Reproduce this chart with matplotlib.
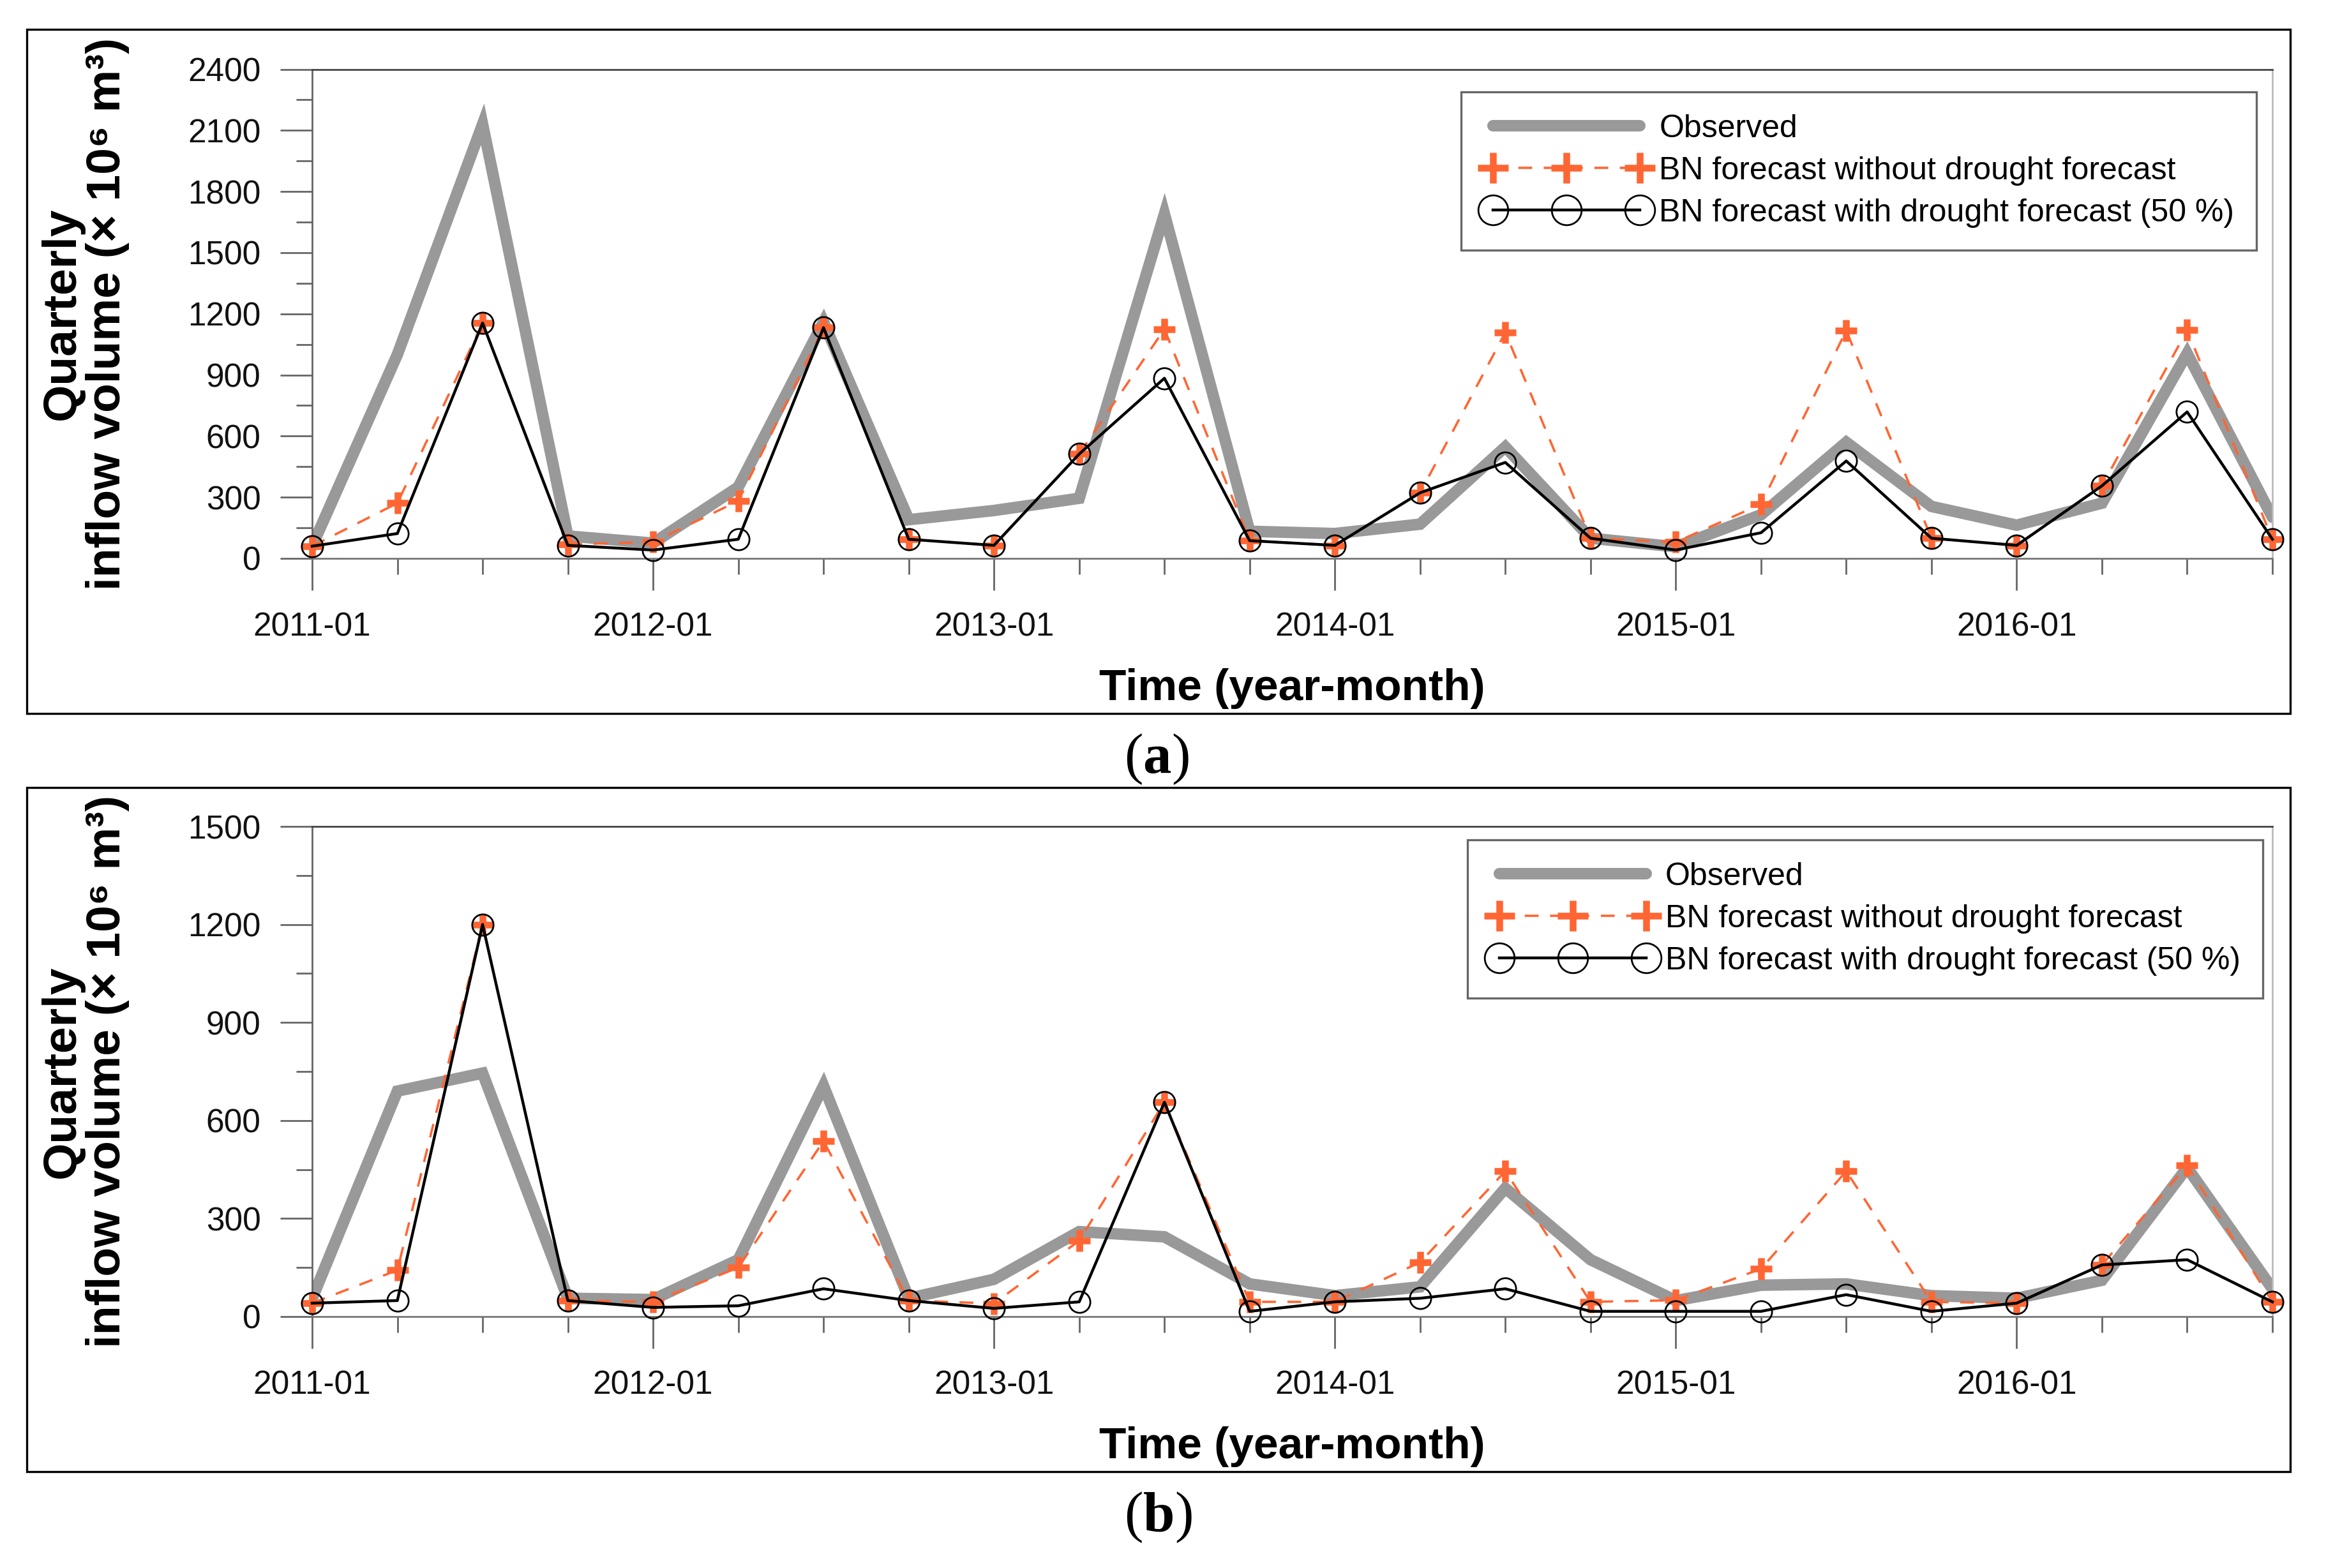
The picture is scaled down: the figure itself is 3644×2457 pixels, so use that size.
import numpy as np
import matplotlib.pyplot as plt
from matplotlib.patches import Rectangle
from matplotlib.ticker import MultipleLocator, FixedLocator

plt.rcParams['font.family'] = ['Liberation Sans', 'DejaVu Sans']

# quarterly time axis, 2011-01 .. 2016-10
quarters = [f'{y}-{m:02d}' for y in range(2011, 2017) for m in (1, 4, 7, 10)]
year_labels = ['2011-01', '2012-01', '2013-01', '2014-01', '2015-01', '2016-01']

# panel (a)
a_observed = [60, 1000, 2130, 110, 75, 350, 1160, 190, 235, 295, 1690, 133,
              122, 168, 547, 99, 57, 214, 570, 255, 163, 271, 1006, 202]
a_no_drought = [60, 271, 1155, 69, 80, 282, 1132, 94, 64, 512, 1125, 87,
                64, 322, 1109, 99, 80, 266, 1118, 99, 64, 356, 1120, 94]
a_with_drought = [60, 122, 1155, 64, 41, 94, 1132, 94, 64, 512, 884, 87,
                  64, 322, 471, 99, 41, 126, 478, 99, 64, 356, 719, 94]

# panel (b)
b_observed = [55, 690, 745, 56, 52, 174, 706, 56, 114, 260, 244, 100,
              64, 91, 393, 174, 49, 96, 100, 64, 56, 111, 456, 85]
b_no_drought = [41, 142, 1200, 49, 45, 150, 537, 49, 40, 232, 656, 45,
                45, 166, 445, 45, 50, 146, 445, 45, 41, 158, 463, 45]
b_with_drought = [41, 49, 1200, 49, 28, 33, 85, 49, 25, 45, 656, 16,
                  45, 56, 85, 16, 16, 16, 67, 16, 41, 158, 174, 45]

GRAY = '#999999'
ORANGE = '#ff6633'
W, H = 3644, 2457

fig = plt.figure(figsize=(W / 200, H / 200), dpi=200, facecolor='white')

x = np.arange(len(quarters))


def draw_panel(rect, obs, nod, wd, ymax, legend_anchor):
    ax = fig.add_axes(rect)
    ax.plot(x, obs, color=GRAY, lw=6.5, solid_capstyle='round',
            solid_joinstyle='miter', zorder=2, label='Observed')
    ax.plot(x, nod, color=ORANGE, lw=1.3, ls=(0, (6, 5)), marker='+', ms=12.5,
            mew=3.8, zorder=3, clip_on=False,
            label='BN forecast without drought forecast')
    ax.plot(x, wd, color='black', lw=1.6, marker='o', ms=12, mfc='none',
            mec='black', mew=1.0, zorder=4, clip_on=False,
            label='BN forecast with drought forecast (50 %)')

    ax.set_xlim(0, len(quarters) - 1)
    ax.set_ylim(0, ymax)
    ax.yaxis.set_major_locator(MultipleLocator(300))
    ax.yaxis.set_minor_locator(MultipleLocator(150))
    major_idx = [quarters.index(q) for q in year_labels]
    ax.xaxis.set_major_locator(FixedLocator(major_idx))
    ax.set_xticklabels(year_labels)
    ax.xaxis.set_minor_locator(FixedLocator(x))

    ax.tick_params(which='major', length=18, width=1, color='#666666',
                   labelsize=18.5, labelcolor='#111111')
    ax.tick_params(which='minor', length=9, width=1, color='#666666')
    ax.tick_params(axis='y', pad=11)
    ax.tick_params(axis='x', pad=12)

    ax.spines['top'].set_color('#444444')
    ax.spines['left'].set_color('#666666')
    ax.spines['bottom'].set_color('#777777')
    ax.spines['right'].set_color('#bbbbbb')
    for s in ax.spines.values():
        s.set_linewidth(1.0)

    ax.set_xlabel('Time (year-month)', fontsize=25, fontweight='bold', va='center')
    ax.xaxis.set_label_coords(0.5, -0.266)
    ax.set_ylabel('Quarterly\ninflow volume (\u00d7 10\u2076 m\u00b3)', fontsize=27,
                  fontweight='bold', rotation=90, rotation_mode='default',
                  ha='center', va='center', multialignment='center', linespacing=1.05)
    ax.yaxis.set_label_coords(-0.116, 0.5)

    leg = ax.legend(loc='upper right', bbox_to_anchor=legend_anchor, borderaxespad=0,
                    fontsize=18, numpoints=3, markerscale=1.4, handlelength=5.2,
                    handletextpad=0.3, labelspacing=0.4, borderpad=0.7,
                    fancybox=False, framealpha=1)
    leg.get_frame().set_edgecolor('#666666')
    leg.get_frame().set_linewidth(1.2)
    return ax


ax_a = draw_panel([489 / W, 1 - 875 / H, 3071 / W, 766.5 / H],
                  a_observed, a_no_drought, a_with_drought, 2400, (0.992, 0.954))
ax_b = draw_panel([489 / W, 1 - 2063 / H, 3071 / W, 768 / H],
                  b_observed, b_no_drought, b_with_drought, 1500, (0.995, 0.973))

# panel frames
for top, bot in [(45.5, 1118), (1234, 2306)]:
    fig.add_artist(Rectangle((42 / W, 1 - bot / H), 3546 / W, (bot - top) / H,
                             transform=fig.transFigure, fill=False,
                             ec='black', lw=1.2))

# panel letters "(a)" / "(b)"
serif = ['Liberation Serif', 'DejaVu Serif']
for letter, yc in [('a', 1190), ('b', 2378)]:
    t1 = fig.text(1761 / W, 1 - yc / H, '(', family=serif, fontsize=32,
                  ha='left', va='center')
    t2 = ax_a.annotate(letter, xy=(1, 0), xycoords=t1, family=serif, fontsize=32,
                       fontweight='bold', ha='left', va='bottom', annotation_clip=False)
    ax_a.annotate(')', xy=(1, 0), xycoords=t2, family=serif, fontsize=32,
                  ha='left', va='bottom', annotation_clip=False)

fig.savefig('out.png', dpi=200, facecolor='white')
